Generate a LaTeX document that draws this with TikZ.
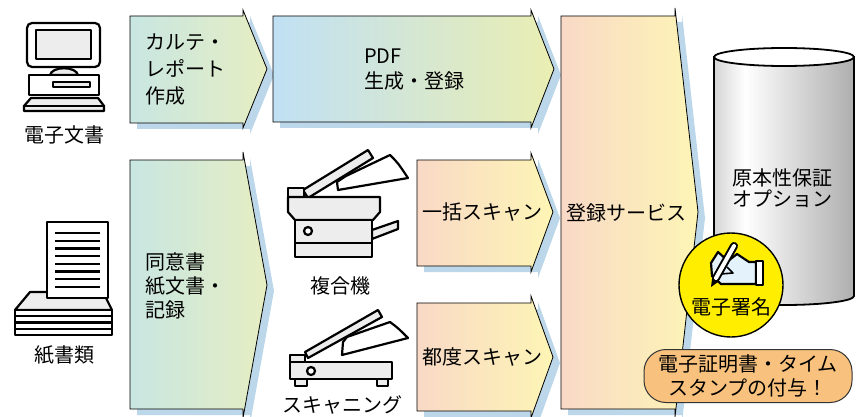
\documentclass[tikz,border=0pt]{standalone}
\usepackage{fontspec}
\setmainfont{Noto Sans CJK JP}

\definecolor{shadowblue}{HTML}{BCD7EA}
\definecolor{tealL}{HTML}{C8E6E2}
\definecolor{limeR}{HTML}{E6EEC2}
\definecolor{skyL}{HTML}{C0E0F4}
\definecolor{limeY}{HTML}{EAEEB2}
\definecolor{peachL}{HTML}{F9D9C6}
\definecolor{creamR}{HTML}{FDF5B5}
\definecolor{iconfill}{HTML}{EDEDED}
\definecolor{handblue}{HTML}{E4F2FC}
\definecolor{signyellow}{HTML}{FFEE00}
\definecolor{stamporange}{HTML}{F8C27E}
\definecolor{cylgrayL}{HTML}{D4D4D4}
\definecolor{cylgrayR}{HTML}{AEAEAE}

\pgfdeclarehorizontalshading{cylgray}{100bp}{color(0bp)=(cylgrayL); color(25bp)=(cylgrayL); color(36bp)=(white); color(75bp)=(cylgrayR); color(100bp)=(cylgrayR)}

\tikzset{
  flowshape/.style={draw=black, line width=0.8pt},
  flowshadow/.style={fill=shadowblue, shift={(7,6)}},
  iconline/.style={draw=black, line width=2.2pt, line join=round},
  txt/.style={inner sep=0pt, align=left, font=\fontsize{20}{25}\selectfont},
}

\begin{document}
\begin{tikzpicture}[x=1pt, y=-1pt]
	\useasboundingbox (0,0) rectangle (856,417);
	\clip (0,0) rectangle (856,417);

	% process arrows, each with its shadow first
	\fill[flowshadow] (130,16) -- (243,16) -- (243,10) -- (267,69) -- (243,128) -- (243,123) -- (130,123) -- cycle;
	\draw[flowshape, left color=tealL, right color=limeR] (130,16) -- (243,16) -- (243,10) -- (267,69) -- (243,128) -- (243,123) -- (130,123) -- cycle;
	\fill[flowshadow] (273,16) -- (531,16) -- (531,10) -- (554,69) -- (531,128) -- (531,122) -- (273,122) -- cycle;
	\draw[flowshape, left color=skyL, right color=limeY] (273,16) -- (531,16) -- (531,10) -- (554,69) -- (531,128) -- (531,122) -- (273,122) -- cycle;
	\fill[flowshadow] (130,160) -- (243,160) -- (243,152) -- (267,285) -- (243,418) -- (243,409) -- (130,409) -- cycle;
	\draw[flowshape, left color=tealL, right color=limeR] (130,160) -- (243,160) -- (243,152) -- (267,285) -- (243,418) -- (243,409) -- (130,409) -- cycle;
	\fill[flowshadow] (417,160) -- (531,160) -- (531,153) -- (553,212) -- (531,272) -- (531,266) -- (417,266) -- cycle;
	\draw[flowshape, left color=peachL, right color=creamR] (417,160) -- (531,160) -- (531,153) -- (553,212) -- (531,272) -- (531,266) -- (417,266) -- cycle;
	\fill[flowshadow] (417,303) -- (531,303) -- (531,296) -- (553,357) -- (531,418) -- (531,411) -- (417,411) -- cycle;
	\draw[flowshape, left color=peachL, right color=creamR] (417,303) -- (531,303) -- (531,296) -- (553,357) -- (531,418) -- (531,411) -- (417,411) -- cycle;
	\fill[flowshadow] (561,16) -- (675,16) -- (675,8) -- (698,212) -- (675,417) -- (675,409) -- (561,409) -- cycle;
	\draw[flowshape, left color=peachL, right color=creamR] (561,16) -- (675,16) -- (675,8) -- (698,212) -- (675,417) -- (675,409) -- (561,409) -- cycle;

	\node[txt, anchor=west, font=\fontsize{20}{27}\selectfont] (karte) at (145,70) {カルテ・\\レポート\\作成};
	\node[txt, anchor=west] (pdf) at (364,70) {PDF\\生成・登録};
	\node[txt, anchor=west, font=\fontsize{20}{24}\selectfont] (consent) at (145,286) {同意書\\紙文書・\\記録};
	\node[txt, anchor=west] (batch) at (422,212) {一括スキャン};
	\node[txt, anchor=west] (each) at (422,357) {都度スキャン};
	\node[txt, anchor=west] (regsvc) at (566,213) {登録サービス};

	% storage cylinder
	\draw[line width=1.8pt, shading=cylgray] (714,57) -- (714,296) arc[start angle=180, end angle=0, x radius=70, y radius=9] -- (854,57) -- cycle;
	\draw[line width=1.8pt, fill=white] (784,57) ellipse [x radius=70, y radius=9];
	\node[txt, anchor=west, font=\fontsize{20}{21}\selectfont] (option) at (732,188) {原本性保証\\オプション};

	% computer
	\draw[iconline, fill=white, rounded corners=5pt] (27,23) rectangle (100,67);
	\draw[iconline, fill=iconfill, line width=1.8pt] (36,30) rectangle (91,59);
	\draw[iconline, fill=iconfill] (50,75) .. controls (52,66) and (76,66) .. (78,75) -- cycle;
	\draw[iconline, fill=white] (29,75) rectangle (99,95);
	\draw[iconline, fill=iconfill, line width=1.8pt] (53,82) rectangle (90,87);
	\draw[iconline, fill=iconfill] (31,98) -- (98,98) -- (104,106) -- (104,111) -- (24,111) -- (24,106) -- cycle;
	\draw[iconline] (24,106) -- (104,106);
	\node[txt] (edoc) at (64,135) {電子文書};

	% paper stack
	\draw[iconline, fill=iconfill] (30,292) -- (103,292) -- (112,310) -- (15,310) -- cycle;
	\draw[iconline, fill=white] (15,310) rectangle (112,335);
	\foreach \y in {316.3,322.5,328.8}
		\draw[iconline] (15,\y) -- (112,\y);
	\draw[iconline, fill=white] (47,222) rectangle (108,298);
	\foreach \i in {0,...,7}
		\draw[iconline] (55,233+7.7*\i) -- (100,233+7.7*\i);
	\node[txt] (paper) at (64,355) {紙書類};

	% copier
	\draw[iconline, fill=white] (346,176) -- (390,155) .. controls (398,163) .. (408,178) -- (338,190) -- (337,182) -- cycle;
	\draw[iconline, fill=iconfill] (303,190) -- (368,150) -- (373,158) -- (308,198) -- cycle;
	\draw[iconline, fill=iconfill] (288,188) rectangle (304,197);
	\draw[iconline, fill=iconfill] (372,230) -- (398,221) -- (398,229) -- (372,239) -- cycle;
	\draw[iconline, fill=iconfill] (288,197) -- (380,197) -- (380,212) -- (373,220) -- (295,220) -- (288,212) -- cycle;
	\draw[iconline, fill=iconfill] (295,220) rectangle (372,257);
	\draw[iconline] (295,243) -- (372,243);
	\draw[iconline, fill=white] (308,231) circle (4);
	\node[txt] (mfp) at (340,286) {複合機};

	% flatbed scanner
	\draw[iconline, fill=white] (347,337) -- (390,322) .. controls (398,328) .. (408,338) -- (342,355) -- (343,342) -- cycle;
	\draw[iconline, fill=iconfill] (305,352) -- (378,310) -- (382,317) -- (308,358) -- cycle;
	\draw[iconline, fill=iconfill] (290,355) rectangle (305,362);
	\draw[iconline, fill=iconfill] (295,379) rectangle (307,386);
	\draw[iconline, fill=iconfill] (377,379) rectangle (388,386);
	\draw[iconline, fill=iconfill] (290,362) rectangle (392,379);
	\draw[iconline, fill=white] (311,371) circle (4);
	\node[txt] (scanning) at (342,405) {スキャニング};

	% signature badge
	\node[circle, draw=black, line width=1.4pt, fill=signyellow, minimum size=104pt, inner sep=0pt] (seal) at (731,285) {};
	\draw[iconline, fill=handblue] (718,252) -- (711,263) -- (712,276) -- (721,284) -- (756,284) -- (756,262) -- (749,262) -- (737,254) -- (728,261) -- cycle;
	\draw[iconline, line width=1.6pt] (721,274) -- (733,273) -- (727,267);
	\draw[line width=8pt, line cap=round, black] (716,278) -- (734,246);
	\draw[line width=4pt, line cap=round, white] (716,278) -- (734,246);
	\fill[black] (711,287) -- (712,279) -- (718,282) -- cycle;
	\draw[iconline, fill=white] (756,261) rectangle (763,285);
	\node[txt] (esign) at (731,307) {電子署名};

	% certificate note
	\node[draw=black!80, line width=1pt, fill=stamporange, rounded corners=22pt, minimum width=208pt, minimum height=53pt, inner sep=0pt, align=center, font=\fontsize{20}{24}\selectfont] (stamp) at (748,376) {電子証明書・タイム\\スタンプの付与！};
\end{tikzpicture}
\end{document}
